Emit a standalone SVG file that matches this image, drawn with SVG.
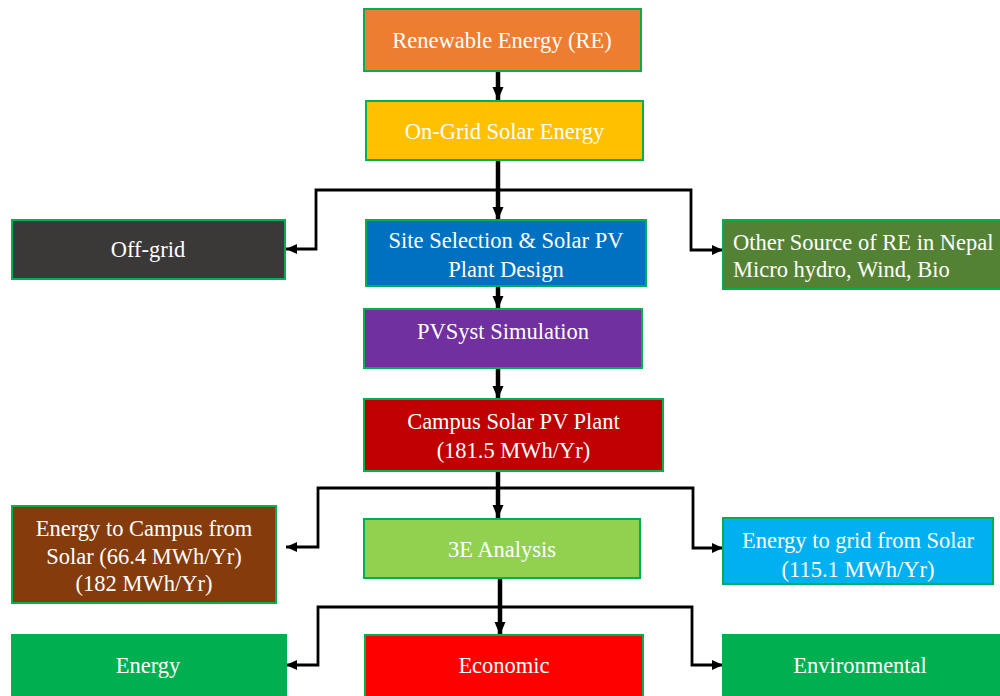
<svg xmlns="http://www.w3.org/2000/svg" width="1000" height="696" viewBox="0 0 1000 696">
<defs>
<marker id="ah" markerUnits="userSpaceOnUse" markerWidth="14" markerHeight="14" viewBox="0 0 14 14" refX="13" refY="7" orient="auto">
<path d="M0,1.5 L13,7 L0,12.5 Z" fill="#000"/>
</marker>
<marker id="ahs" markerUnits="userSpaceOnUse" markerWidth="12" markerHeight="12" viewBox="0 0 12 12" refX="11" refY="6" orient="auto">
<path d="M0,1 L11,6 L0,11 Z" fill="#000"/>
</marker>
</defs>
<style>
.box{stroke:#00B050;stroke-width:2}
.t{font-family:"Liberation Serif","Times New Roman",serif;font-size:22.5px;fill:#fff}
.c{text-anchor:middle}
.trunk{stroke:#000;stroke-width:4.5;fill:none}
.br{stroke:#000;stroke-width:2.8;fill:none}
</style>
<rect width="1000" height="696" fill="#fff"/>
<g id="connectors">
<path class="trunk" d="M498,72 V100" marker-end="url(#ah)"/>
<path class="trunk" d="M498,161 V220" marker-end="url(#ah)"/>
<path class="br" d="M498,190 H316 V249 H286" marker-end="url(#ahs)"/>
<path class="br" d="M498,190 H691 V250 H723" marker-end="url(#ahs)"/>
<path class="trunk" d="M498,286 V309" marker-end="url(#ah)"/>
<path class="trunk" d="M498,368 V399" marker-end="url(#ah)"/>
<path class="trunk" d="M498,471 V518" marker-end="url(#ah)"/>
<path class="br" d="M498,488 H318 V547 H286" marker-end="url(#ahs)"/>
<path class="br" d="M498,488 H693 V548 H723" marker-end="url(#ahs)"/>
<path class="trunk" d="M500,578 V635" marker-end="url(#ah)"/>
<path class="br" d="M500,607 H318 V665 H286" marker-end="url(#ahs)"/>
<path class="br" d="M500,607 H692 V665 H723" marker-end="url(#ahs)"/>
</g>
<g id="n-re">
<rect class="box" x="364" y="9" width="277" height="62" fill="#ED7D31"/>
<text class="t c" x="502" y="48">Renewable Energy (RE)</text>
</g>
<g id="n-ongrid">
<rect class="box" x="366" y="101" width="277" height="59" fill="#FFC000"/>
<text class="t c" x="504.5" y="139">On-Grid Solar Energy</text>
</g>
<g id="n-offgrid">
<rect class="box" x="12" y="220" width="273" height="59" fill="#3B3838"/>
<text class="t c" x="148" y="257">Off-grid</text>
</g>
<g id="n-site">
<rect class="box" x="366" y="220" width="280" height="66" fill="#0070C0"/>
<text class="t c" x="506" y="248">Site Selection &amp; Solar PV</text>
<text class="t c" x="506" y="277">Plant Design</text>
</g>
<g id="n-other">
<rect class="box" x="723" y="220" width="280" height="69" fill="#548235"/>
<text class="t" x="733" y="250">Other Source of RE in Nepal</text>
<text class="t" x="733" y="277">Micro hydro, Wind, Bio</text>
</g>
<g id="n-pvsyst">
<rect class="box" x="364" y="309" width="278" height="59" fill="#7030A0"/>
<text class="t c" x="503" y="339">PVSyst Simulation</text>
</g>
<g id="n-campus">
<rect class="box" x="364" y="399" width="299" height="72" fill="#C00000"/>
<text class="t c" x="513.5" y="429">Campus Solar PV Plant</text>
<text class="t c" x="513.5" y="458">(181.5 MWh/Yr)</text>
</g>
<g id="n-campusenergy">
<rect class="box" x="12" y="506" width="264" height="97" fill="#843C0C"/>
<text class="t c" x="144" y="536">Energy to Campus from</text>
<text class="t c" x="144" y="564">Solar (66.4 MWh/Yr)</text>
<text class="t c" x="144" y="591">(182 MWh/Yr)</text>
</g>
<g id="n-3e">
<rect class="box" x="364" y="519" width="276" height="59" fill="#92D050"/>
<text class="t c" x="502" y="557">3E Analysis</text>
</g>
<g id="n-grid">
<rect class="box" x="723" y="518" width="270" height="66" fill="#00B0F0"/>
<text class="t c" x="858" y="548">Energy to grid from Solar</text>
<text class="t c" x="858" y="577">(115.1 MWh/Yr)</text>
</g>
<g id="n-energy">
<rect class="box" x="12" y="635" width="274" height="64" fill="#00B050"/>
<text class="t c" x="148" y="673">Energy</text>
</g>
<g id="n-economic">
<rect class="box" x="365" y="635" width="278" height="64" fill="#FF0000"/>
<text class="t c" x="504" y="673">Economic</text>
</g>
<g id="n-env">
<rect class="box" x="723" y="635" width="280" height="64" fill="#00B050"/>
<text class="t c" x="860" y="673">Environmental</text>
</g>
</svg>
